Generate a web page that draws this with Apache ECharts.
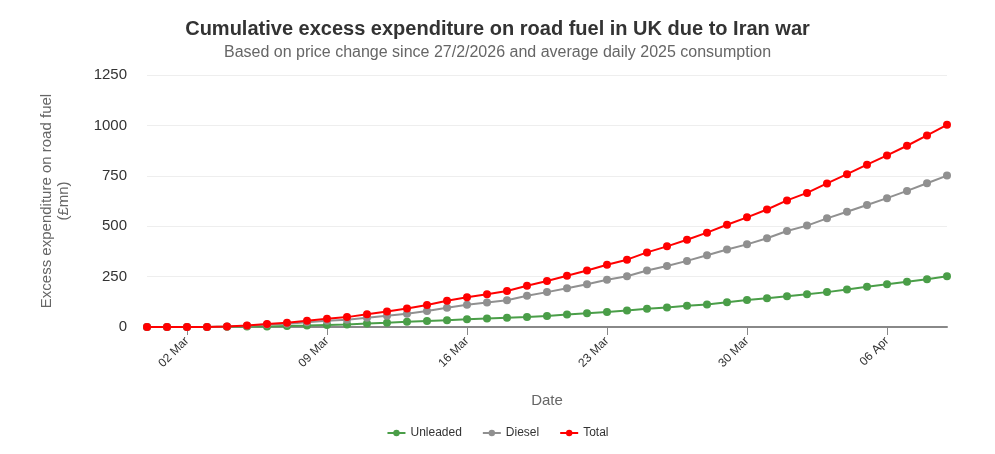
<!DOCTYPE html>
<html>
<head>
<meta charset="utf-8">
<script src="https://cdn.jsdelivr.net/npm/echarts@6/dist/echarts.min.js"></script>
<style>html,body{margin:0;padding:0;background:#fff}#chart{width:995px;height:454px}</style>
</head>
<body>
<div id="chart"></div>
<script>
// dates 28 Feb 2026 .. 09 Apr 2026
const dates = [];
for (let d = new Date(Date.UTC(2026, 1, 28)); d <= new Date(Date.UTC(2026, 3, 9)); d.setUTCDate(d.getUTCDate() + 1)) {
  const m = ["Jan","Feb","Mar","Apr"][d.getUTCMonth()];
  dates.push(String(d.getUTCDate()).padStart(2, "0") + " " + m);
}
const total = [0,0,0,0,3,8,15,21,31,41,49,63,77,92,109,130,148,163,179,205,228,254,280,309,334,370,400,433,468,507,544,583,628,665,712,758,805,851,899,950,1003];
const unleaded = [0,0,0,0,1,2,3,5,7,10,13,17,21,26,30,34,38,42,46,50,55,62,68,75,82,90,97,105,112,123,134,143,152,162,173,186,200,212,224,237,252];
const diesel = total.map((t, i) => t - unleaded[i]);

const chart = echarts.init(document.getElementById("chart"));
const ser = (name, data, color) => ({
  name, data, type: "line", symbol: "circle", symbolSize: 8,
  itemStyle: {color}, lineStyle: {color, width: 2}
});
chart.setOption({
  animation: false,
  textStyle: {fontFamily: "Liberation Sans, Arial, sans-serif"},
  title: {
    text: "Cumulative excess expenditure on road fuel in UK due to Iran war",
    subtext: "Based on price change since 27/2/2026 and average daily 2025 consumption",
    left: "center", top: 14, itemGap: 6,
    textStyle: {fontSize: 20, fontWeight: "bold", color: "#333"},
    subtextStyle: {fontSize: 16, color: "#666"}
  },
  legend: {
    bottom: 10, itemWidth: 18, itemHeight: 8, itemGap: 20,
    textStyle: {fontSize: 12, color: "#333"},
    data: ["Unleaded", "Diesel", "Total"]
  },
  grid: {left: 147, right: 48, top: 75, bottom: 127},
  xAxis: {
    type: "category", data: dates, boundaryGap: false,
    name: "Date", nameLocation: "middle", nameGap: 66,
    nameTextStyle: {fontSize: 15, color: "#666"},
    axisLine: {lineStyle: {color: "#888", width: 2}},
    axisTick: {interval: (i) => i % 7 === 2, length: 8, lineStyle: {color: "#888"}},
    axisLabel: {interval: (i) => i % 7 === 2, rotate: 45, color: "#333", fontSize: 12, margin: 12}
  },
  yAxis: {
    type: "value", min: 0, max: 1250, interval: 250,
    name: "Excess expenditure on road fuel\n(£mn)", nameLocation: "middle", nameGap: 75,
    nameTextStyle: {fontSize: 15, color: "#666", lineHeight: 17},
    axisLabel: {color: "#333", fontSize: 15, margin: 20, formatter: (v) => String(v)},
    splitLine: {lineStyle: {color: "#eee"}}
  },
  series: [
    ser("Unleaded", unleaded, "#4a9e48"),
    ser("Diesel", diesel, "#909090"),
    ser("Total", total, "#ff0000")
  ]
});
</script>
</body>
</html>
